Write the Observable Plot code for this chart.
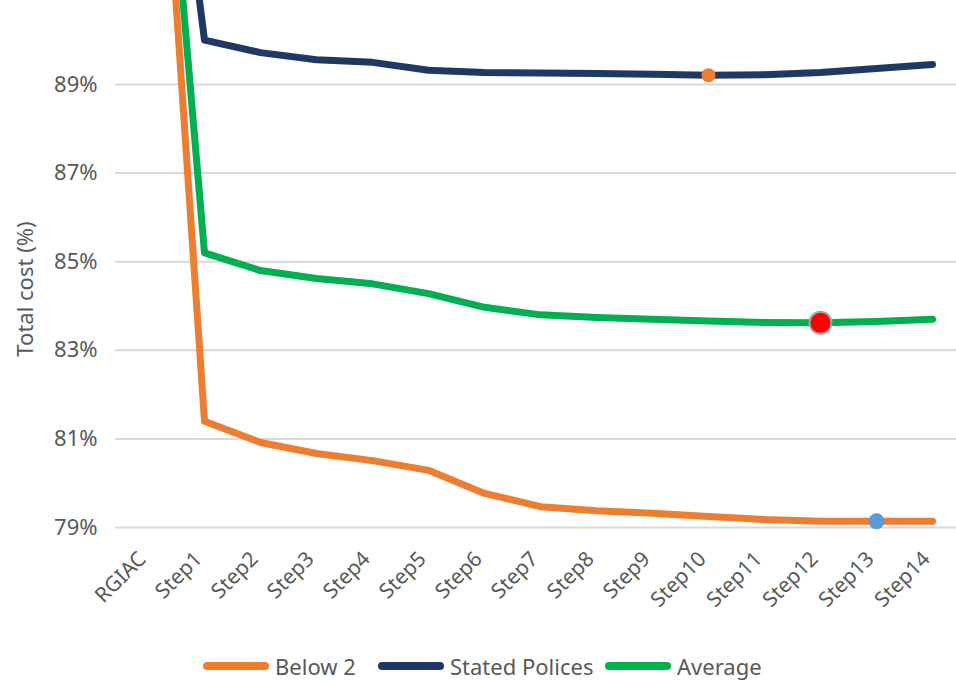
<!DOCTYPE html>
<html><head><meta charset="utf-8">
<script src="https://cdn.jsdelivr.net/npm/d3@7"></script>
<script src="https://cdn.jsdelivr.net/npm/@observablehq/plot@0.6"></script>
<style>
body{margin:0;background:#fff;font-family:"Noto Sans",sans-serif;}
#wrap{position:relative;width:956px;height:681px;overflow:hidden;background:#fff}
#legend{position:absolute;left:0;top:651px;width:956px;height:30px;font-size:22px;color:#595959}
.item{position:absolute;top:0;display:flex;align-items:center;height:30px;white-space:nowrap}
.sw{width:66px;height:8px;border-radius:4px;margin-right:6px}
</style>
</head><body>
<div id="wrap"><div id="chart"></div><div id="legend"></div></div>
<script>
const categories = ["RGIAC","Step1","Step2","Step3","Step4","Step5","Step6","Step7","Step8","Step9","Step10","Step11","Step12","Step13","Step14"];
const below2  = [100, 81.40, 80.92, 80.67, 80.51, 80.29, 79.77, 79.47, 79.38, 79.32, 79.25, 79.18, 79.14, 79.14, 79.14];
const stated  = [100, 90.00, 89.72, 89.56, 89.50, 89.32, 89.27, 89.26, 89.25, 89.23, 89.21, 89.22, 89.27, 89.36, 89.45];
const average = [100, 85.20, 84.80, 84.62, 84.50, 84.28, 83.97, 83.80, 83.74, 83.70, 83.66, 83.63, 83.62, 83.65, 83.70];
const seriesNames = ["Below 2", "Stated Polices", "Average"];
const seriesColors = ["#ED7D31", "#203864", "#00B050"];
const yTicks = [79, 81, 83, 85, 87, 89];
// highlighted points: [series, category]
const highlightSeries = ["Stated Polices", "Average", "Below 2"];
const highlightCategories = ["Step10", "Step12", "Step13"];

const seriesValues = [below2, stated, average];
const rows = [];
seriesNames.forEach((s, i) => categories.forEach((c, j) => rows.push({series: s, category: c, value: seriesValues[i][j]})));
const hl = highlightSeries.map((s, k) => {
  const i = seriesNames.indexOf(s), j = categories.indexOf(highlightCategories[k]);
  return {series: s, category: highlightCategories[k], value: seriesValues[i][j]};
});
const dotStyles = [
  {fill: "#ED7D31", stroke: "none", r: 7},
  {fill: "#FF0000", stroke: "#A6A6A6", r: 11},
  {fill: "#5B9BD5", stroke: "none", r: 8}
];

const plot = Plot.plot({
  width: 956, height: 640,
  marginLeft: 115, marginRight: 0, marginTop: 0, marginBottom: 113,
  x: {type: "point", domain: categories, range: [141, 938], padding: 0},
  y: {domain: [79, 91], range: [527, -4.6]},
  color: {domain: seriesNames, range: seriesColors},
  style: {fontFamily: "Noto Sans", color: "#595959", background: "#fff"},
  marks: [
    Plot.ruleY(yTicks, {stroke: "#d9d9d9", strokeWidth: 2}),
    Plot.axisY({ticks: yTicks, tickFormat: d => d + "%", tickSize: 0, tickPadding: 18, fontSize: 22, label: null}),
    Plot.axisX({tickRotate: -45, tickSize: 0, tickPadding: 28, dx: -6, fontSize: 21, label: null}),
    Plot.text(["Total cost (%)"], {frameAnchor: "left", textAnchor: "middle", rotate: -90, dx: -90, dy: 25, fontSize: 22, fill: "#595959"}),
    Plot.line(rows, {x: "category", y: "value", z: "series", stroke: "series", strokeWidth: 7, strokeLinecap: "round", strokeLinejoin: "round", clip: true}),
    ...hl.map((h, k) => Plot.dot([h], {x: "category", y: "value", r: dotStyles[k].r, fill: dotStyles[k].fill, stroke: dotStyles[k].stroke, strokeWidth: 2}))
  ]
});
document.getElementById("chart").appendChild(plot);

const legendLeft = [203, 378, 605];
const lg = document.getElementById("legend");
seriesNames.forEach((s, i) => {
  const it = document.createElement("div");
  it.className = "item";
  it.style.left = legendLeft[i] + "px";
  it.innerHTML = `<div class="sw" style="background:${seriesColors[i]}"></div><span>${s}</span>`;
  lg.appendChild(it);
});
</script>
</body></html>
